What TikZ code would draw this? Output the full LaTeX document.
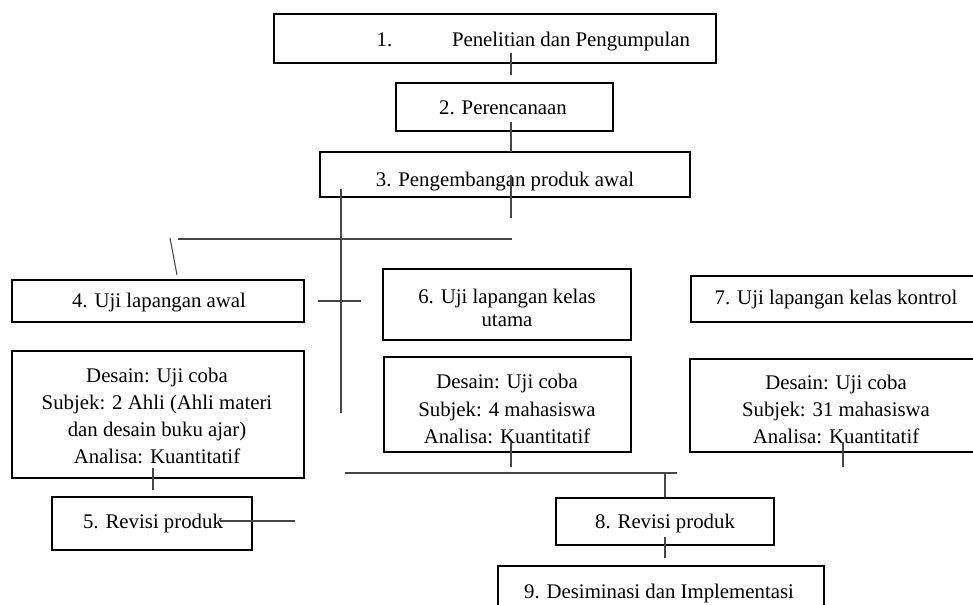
\documentclass[tikz,border=0pt]{standalone}
\usepackage{fontspec}
\setmainfont{Liberation Serif}
\begin{document}
\begin{tikzpicture}[x=0.75pt,y=-0.75pt,
  box/.style={draw=black, line width=1.5pt, inner sep=0pt},
  txt/.style={inner sep=0pt, text height=0.66em, text depth=0pt, yshift=-1.5pt, font=\fontsize{15.6}{20}\selectfont},
  conn/.style={draw=black!72, line width=0.8pt}]
\useasboundingbox (0,0) rectangle (973,605);
\fill[white] (0,0) rectangle (973,605);
\clip (0,0) rectangle (973,605);

% boxes
\node[box, minimum width=0.75pt*442, minimum height=0.75pt*49] (b1) at (495,38.5) {};
\node[box, minimum width=0.75pt*217, minimum height=0.75pt*48] (b2) at (504.5,107) {};
\node[box, minimum width=0.75pt*370, minimum height=0.75pt*45] (b3) at (505,174.5) {};
\node[box, minimum width=0.75pt*292, minimum height=0.75pt*42] (b4) at (158,301) {};
\node[box, minimum width=0.75pt*292, minimum height=0.75pt*127] (b4d) at (158,414.5) {};
\node[box, minimum width=0.75pt*200, minimum height=0.75pt*53] (b5) at (152,523.5) {};
\node[box, minimum width=0.75pt*248, minimum height=0.75pt*71] (b6) at (507,304.5) {};
\node[box, minimum width=0.75pt*247, minimum height=0.75pt*95] (b6d) at (507.5,404.5) {};
\node[box, minimum width=0.75pt*283, minimum height=0.75pt*46] (b7) at (832.5,299) {};
\node[box, minimum width=0.75pt*284, minimum height=0.75pt*93] (b7d) at (832,405.5) {};
\node[box, minimum width=0.75pt*218, minimum height=0.75pt*47] (b8) at (665,521.5) {};
\node[box, minimum width=0.75pt*326, minimum height=0.75pt*54] (b9) at (661,593) {};

% texts
\node[txt] (t1a) at (384.5,40) {1.};
\node[txt] (t1b) at (571,40) {Penelitian dan Pengumpulan};
\node[txt] (t2) at (503,108) {2. Perencanaan};
\node[txt] (t3) at (505,180) {3. Pengembangan produk awal};
\node[txt] (t4) at (159,301) {4. Uji lapangan awal};
\node[txt] (t4d1) at (157,376) {Desain: Uji coba};
\node[txt] (t4d2) at (157,403) {Subjek: 2 Ahli (Ahli materi};
\node[txt] (t4d3) at (157,430) {dan desain buku ajar)};
\node[txt] (t4d4) at (157,457) {Analisa: Kuantitatif};
\node[txt] (t5) at (153,522) {5. Revisi produk};
\node[txt] (t6a) at (507,297) {6. Uji lapangan kelas};
\node[txt] (t6b) at (507,320) {utama};
\node[txt] (t6d1) at (507,382) {Desain: Uji coba};
\node[txt] (t6d2) at (507,410) {Subjek: 4 mahasiswa};
\node[txt] (t6d3) at (507,437) {Analisa: Kuantitatif};
\node[txt] (t7) at (836,298) {7. Uji lapangan kelas kontrol};
\node[txt] (t7d1) at (836,383) {Desain: Uji coba};
\node[txt] (t7d2) at (836,410) {Subjek: 31 mahasiswa};
\node[txt] (t7d3) at (836,437) {Analisa: Kuantitatif};
\node[txt] (t8) at (665,522) {8. Revisi produk};
\node[txt] (t9) at (659,592) {9. Desiminasi dan Implementasi};

% connector end points
\coordinate (c1a) at (511,53);   \coordinate (c1b) at (511,75);
\coordinate (c2a) at (511,122);  \coordinate (c2b) at (511,152);
\coordinate (c3a) at (511,175);  \coordinate (c3b) at (511,218);
\coordinate (c4a) at (178,239);  \coordinate (c4b) at (512,239);
\coordinate (c5a) at (170,238);  \coordinate (c5b) at (177,275);
\coordinate (c6a) at (341,189);  \coordinate (c6b) at (341,413);
\coordinate (c7a) at (318,301);  \coordinate (c7b) at (361,301);
\coordinate (c8a) at (153,468);  \coordinate (c8b) at (153,490);
\coordinate (c9a) at (220,521);  \coordinate (c9b) at (295,521);
\coordinate (c10a) at (511,442); \coordinate (c10b) at (511,467);
\coordinate (c11a) at (843,442); \coordinate (c11b) at (843,467);
\coordinate (c12a) at (345,473); \coordinate (c12b) at (677,473);
\coordinate (c13a) at (665,473); \coordinate (c13b) at (665,497);
\coordinate (c14a) at (665,537); \coordinate (c14b) at (665,558);

% connectors
\draw[conn] (c1a) -- (c1b);
\draw[conn] (c2a) -- (c2b);
\draw[conn] (c3a) -- (c3b);
\draw[conn] (c4a) -- (c4b);
\draw[conn] (c5a) -- (c5b);
\draw[conn] (c6a) -- (c6b);
\draw[conn] (c7a) -- (c7b);
\draw[conn] (c8a) -- (c8b);
\draw[conn] (c9a) -- (c9b);
\draw[conn] (c10a) -- (c10b);
\draw[conn] (c11a) -- (c11b);
\draw[conn] (c12a) -- (c12b);
\draw[conn] (c13a) -- (c13b);
\draw[conn] (c14a) -- (c14b);
\end{tikzpicture}
\end{document}
